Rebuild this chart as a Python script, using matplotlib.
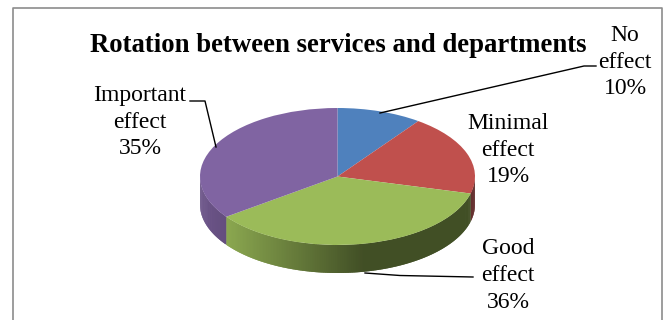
import numpy as np
import matplotlib
matplotlib.use('Agg')
import matplotlib.pyplot as plt

categories = ['No\neffect', 'Minimal\neffect', 'Good\neffect', 'Important\neffect']
values = [10, 19, 36, 35]
colors = ['#4F81BD', '#C0504D', '#9BBB59', '#8064A2']
title = 'Rotation between services and departments'

W, H = 669, 320
cx, cy = 337.5, 176.5
rx, ry = 137.5, 68.5
depth = 28 / ry

# side wall shading along the ellipse, factor by horizontal position
wall_u = [[-1, 1], [-1, 1], [-1.0, -0.81, 0.2, 1.0], [-1.0, -0.81]]
wall_f = [[0.55, 0.55], [0.5, 0.5], [0.9, 0.9, 0.42, 0.42], [0.85, 0.78]]

plt.rcParams['font.family'] = ['Liberation Serif', 'DejaVu Serif']
fig = plt.figure(figsize=(W / 100, H / 100), dpi=100)

# pie axes stretched so that a unit circle becomes the tilted ellipse
ax = fig.add_axes([(cx - 1.25 * rx) / W, (H - cy - 1.5 * ry) / H, 2.5 * rx / W, 3 * ry / H])
ax.pie(values, colors=colors, startangle=90, counterclock=False, radius=1)
ax.set_aspect('auto')
ax.set_xlim(-1.25, 1.25)
ax.set_ylim(-1.5, 1.5)
ax.axis('off')

# front wall of the disc, only the part facing the viewer
edges = np.cumsum([0] + values) * 3.6
for i, c in enumerate(colors):
    a = max(edges[i], 90)
    b = min(edges[i + 1], 270)
    if a >= b:
        continue
    base = np.array(matplotlib.colors.to_rgb(c))
    t = np.arange(a, b, 0.75)
    t = np.append(t, b)
    for j in range(len(t) - 1):
        t0 = np.radians(t[j])
        t1 = np.radians(t[min(j + 2, len(t) - 1)])
        tt = np.linspace(t0, t1, 4)
        xs = np.sin(tt)
        ys = np.cos(tt)
        f = np.interp(np.sin(t0), wall_u[i], wall_f[i])
        ax.fill(np.r_[xs, xs[::-1]], np.r_[ys, ys[::-1] - depth],
                color=tuple(base * f), linewidth=0, zorder=0)

# overlay in pixel coordinates for the frame, text and leader lines
ov = fig.add_axes([0, 0, 1, 1], facecolor='none')
ov.set_xlim(0, W)
ov.set_ylim(H, 0)
ov.axis('off')

ov.plot([12.5, 12.5, 662, 662], [H + 5, 7.5, 7.5, H + 5], color='#8c8c8c', lw=1.2)

ov.text(338, 46, title, fontsize=19.3, fontweight='bold', ha='center', va='center', color='black')

label_pos = [(625, 62), (508, 150), (508, 275.5), (140, 122)]
for lab, v, (x, y) in zip(categories, values, label_pos):
    ov.text(x, y, '%s\n%d%%' % (lab, v), fontsize=17, ha='center', va='center',
            linespacing=1.37, color='black')

leaders = [
    ([380, 584, 596], [113, 66, 66]),
    ([365, 400, 473], [273, 275.5, 277]),
    ([190, 205, 216], [101, 101, 147]),
]
for lx, ly in leaders:
    ov.plot(lx, ly, color='black', lw=1)

fig.savefig('out.png', dpi=100)
